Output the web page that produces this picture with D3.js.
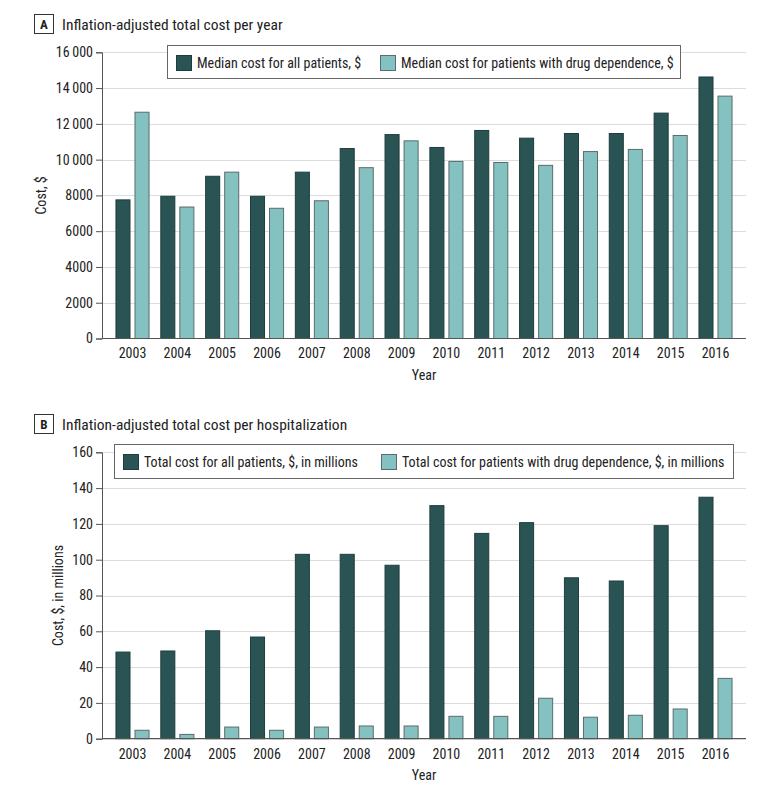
<!DOCTYPE html>
<html>
<head>
<meta charset="utf-8">
<script src="https://cdn.jsdelivr.net/npm/d3@7"></script>
<style>
  html, body { margin: 0; padding: 0; background: #fff; }
  svg { display: block; }
  text { font-family: "Liberation Sans Narrow", "Roboto Condensed", "Open Sans", sans-serif; fill: #222; }
</style>
</head>
<body>
<svg id="chart" width="780" height="793"></svg>
<script>
const years = ["2003","2004","2005","2006","2007","2008","2009","2010","2011","2012","2013","2014","2015","2016"];

// Panel A: inflation-adjusted total cost per year (median, $)
const medianAll = [7750, 7950, 9070, 7950, 9300, 10620, 11400, 10680, 11630, 11200, 11460, 11460, 12600, 14620];
const medianDrug = [12650, 7350, 9300, 7280, 7700, 9550, 11050, 9900, 9840, 9680, 10450, 10570, 11350, 13550];
const ticksA = [0, 2000, 4000, 6000, 8000, 10000, 12000, 14000, 16000];
const seriesNamesA = ["Median cost for all patients, $", "Median cost for patients with drug dependence, $"];

// Panel B: inflation-adjusted total cost per hospitalization ($, millions)
const totalAll = [48.4, 49.0, 60.3, 56.8, 103, 103, 96.9, 130.2, 114.7, 120.7, 89.9, 88.1, 119, 134.9];
const totalDrug = [4.7, 2.4, 6.5, 4.7, 6.5, 7.1, 7.1, 12.5, 12.5, 22.6, 12.0, 13.1, 16.6, 33.7];
const ticksB = [0, 20, 40, 60, 80, 100, 120, 140, 160];
const seriesNamesB = ["Total cost for all patients, $, in millions", "Total cost for patients with drug dependence, $, in millions"];

const colors = ["#2a5354", "#84c2c1"];
const strokes = ["#1f3d3d", "#5c6b6b"];

const svg = d3.select("#chart");

function fmt(v) {
  if (v >= 10000) {
    const s = String(v);
    return s.slice(0, s.length - 3) + "\u2009" + s.slice(s.length - 3);
  }
  return String(v);
}

function panel(opts) {
  const g = svg.append("g");
  const left = 102, right = 746;
  const top = opts.top, bottom = opts.bottom;

  // Panel letter box + title
  g.append("rect")
    .attr("x", 34.5).attr("y", opts.titleY - 14.5)
    .attr("width", 19).attr("height", 19)
    .attr("fill", "#fff").attr("stroke", "#333").attr("stroke-width", 1);
  g.append("text")
    .attr("x", 44).attr("y", opts.titleY)
    .attr("text-anchor", "middle")
    .attr("font-size", 13).attr("font-weight", "bold")
    .text(opts.letter);
  g.append("text")
    .attr("x", 62).attr("y", opts.titleY + 1)
    .attr("font-size", 15.5)
    .text(opts.title);

  const x0 = d3.scaleBand().domain(years).range([left, right]).paddingInner(0.24).paddingOuter(0.3);
  const x1 = d3.scaleBand().domain([0, 1]).range([0, x0.bandwidth()]).paddingInner(0.21);
  const y = d3.scaleLinear().domain([0, opts.max]).range([bottom, top]);

  // gridlines
  g.append("g").selectAll("line").data(opts.ticks.filter(t => t > 0)).join("line")
    .attr("x1", left).attr("x2", right)
    .attr("y1", d => Math.round(y(d)) + 0.5).attr("y2", d => Math.round(y(d)) + 0.5)
    .attr("stroke", "#dcdcdc").attr("stroke-width", 1.2);

  // y axis
  const yAxis = d3.axisLeft(y).tickValues(opts.ticks).tickFormat(opts.fmt).tickSize(6).tickPadding(3);
  const ya = g.append("g").attr("transform", `translate(${left},0)`).call(yAxis);
  ya.select(".domain").attr("stroke", "#555");
  ya.selectAll(".tick line").attr("stroke", "#555");
  ya.selectAll(".tick text").attr("font-size", 14).attr("fill", "#222")
    .attr("font-family", '"Liberation Sans Narrow", sans-serif');

  // bars
  const data = years.map((yr, i) => ({ yr, vals: [opts.s1[i], opts.s2[i]] }));
  const grp = g.append("g").selectAll("g").data(data).join("g")
    .attr("transform", d => `translate(${x0(d.yr)},0)`);
  grp.selectAll("rect").data(d => d.vals.map((v, k) => ({ v, k }))).join("rect")
    .attr("x", d => x1(d.k) + 0.5)
    .attr("y", d => y(d.v))
    .attr("width", x1.bandwidth() - 1)
    .attr("height", d => bottom - y(d.v))
    .attr("fill", d => colors[d.k])
    .attr("stroke", d => strokes[d.k])
    .attr("stroke-width", 1);

  // x axis
  const xAxis = d3.axisBottom(x0).tickSize(0).tickPadding(10);
  const xa = g.append("g").attr("transform", `translate(0,${bottom})`).call(xAxis);
  xa.select(".domain").remove();
  xa.selectAll(".tick text").attr("font-size", 14).attr("fill", "#222")
    .attr("font-family", '"Liberation Sans Narrow", sans-serif');
  g.append("line").attr("x1", left).attr("x2", right)
    .attr("y1", bottom).attr("y2", bottom)
    .attr("stroke", "#555").attr("stroke-width", 1.2);

  // axis titles
  g.append("text").attr("x", (left + right) / 2).attr("y", bottom + 41)
    .attr("text-anchor", "middle").attr("font-size", 14).text("Year");
  g.append("text")
    .attr("transform", `translate(${opts.yLabelX},${(top + bottom) / 2}) rotate(-90)`)
    .attr("text-anchor", "middle").attr("font-size", 14).text(opts.yLabel);

  // legend
  const L = opts.legend;
  g.append("rect").attr("x", L.x + 0.5).attr("y", L.y + 0.5).attr("width", L.w).attr("height", L.h)
    .attr("fill", "#fff").attr("stroke", "#666").attr("stroke-width", 1);
  L.items.forEach((it, k) => {
    g.append("rect").attr("x", it.sx + 0.5).attr("y", L.y + 10.5).attr("width", 15).attr("height", 15)
      .attr("fill", colors[k]).attr("stroke", strokes[k]);
    g.append("text").attr("x", it.tx).attr("y", L.y + 23).attr("font-size", 14).text(opts.names[k]);
  });
}

panel({
  letter: "A", title: "Inflation-adjusted total cost per year", titleY: 29,
  top: 52.3, bottom: 338.5, max: 16000, ticks: ticksA, fmt: fmt,
  s1: medianAll, s2: medianDrug, names: seriesNamesA,
  yLabel: "Cost, $", yLabelX: 46,
  legend: { x: 167, y: 45, w: 513, h: 33, items: [{ sx: 176, tx: 197 }, { sx: 380, tx: 401 }] }
});

panel({
  letter: "B", title: "Inflation-adjusted total cost per hospitalization", titleY: 429,
  top: 452.3, bottom: 738.7, max: 160, ticks: ticksB, fmt: d => String(d),
  s1: totalAll, s2: totalDrug, names: seriesNamesB,
  yLabel: "Cost, $, in millions", yLabelX: 63,
  legend: { x: 114, y: 444, w: 619, h: 34, items: [{ sx: 123, tx: 144 }, { sx: 381, tx: 402 }] }
});
</script>
</body>
</html>
